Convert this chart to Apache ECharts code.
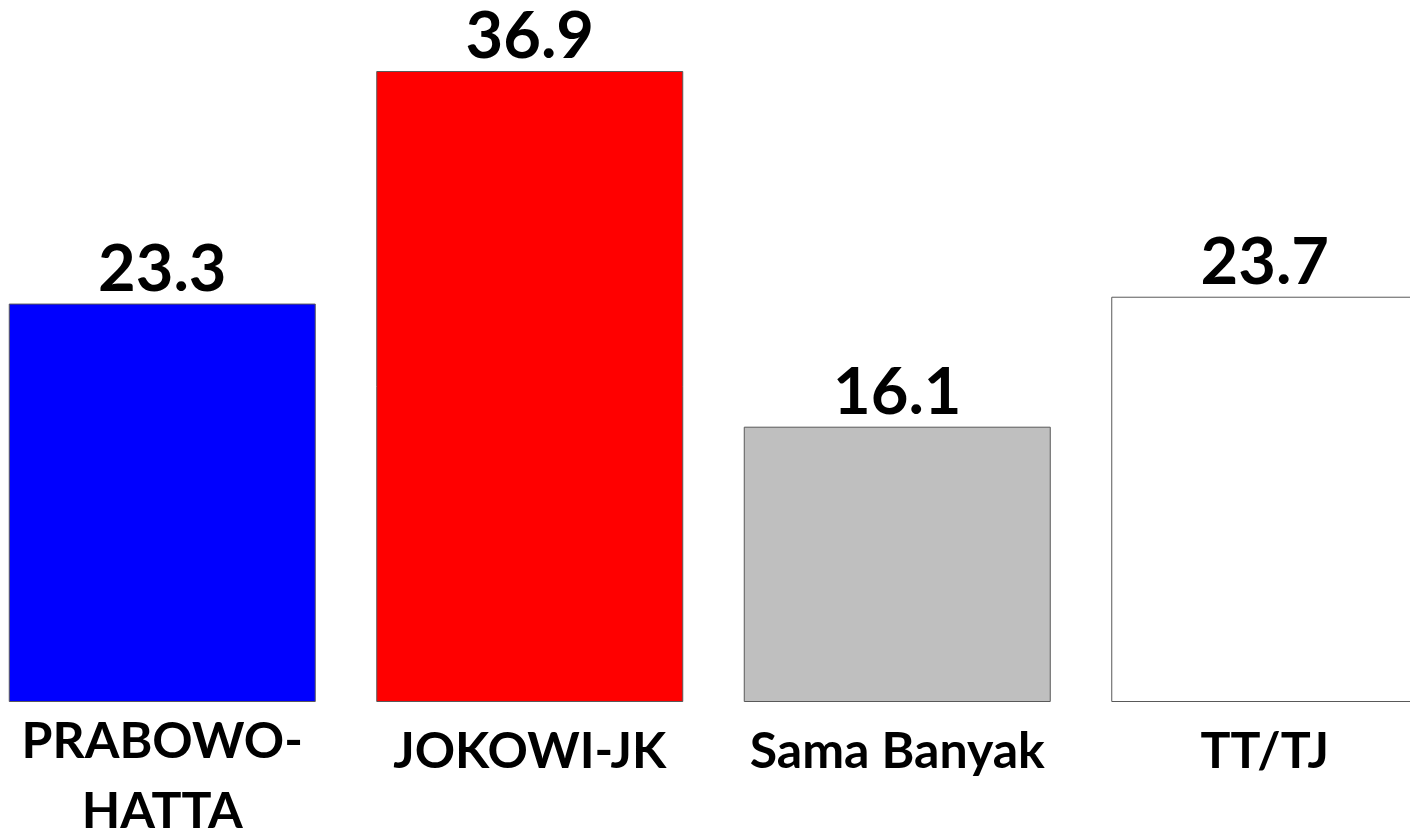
<!DOCTYPE html>
<html>
<head>
<meta charset="utf-8">
<script src="https://cdn.jsdelivr.net/npm/echarts@6/dist/echarts.min.js"></script>
<style>
html,body{margin:0;padding:0;background:#fff;}
#chart{width:1410px;height:835px;}
</style>
</head>
<body>
<div id="chart"></div>
<script>
const categories = ['PRABOWO-\nHATTA', 'JOKOWI-JK', 'Sama Banyak', 'TT/TJ'];
const values = [23.3, 36.9, 16.1, 23.7];
const barColors = ['#0000FF', '#FF0000', '#BFBFBF', '#FFFFFF'];

const chart = echarts.init(document.getElementById('chart'), null, {renderer: 'canvas'});
const catData = categories.map(function (c) {
  const multi = c.indexOf('\n') >= 0;
  return {value: c, textStyle: {padding: multi ? [0, 0, 0, 0] : [10, 0, 0, 0]}};
});
chart.setOption({
  animation: false,
  backgroundColor: '#FFFFFF',
  grid: {left: -21.5, width: 1470, top: 18, bottom: 133, containLabel: false, outerBoundsMode: 'none'},
  xAxis: {
    type: 'category',
    data: catData,
    axisLine: {show: false},
    axisTick: {show: false},
    axisLabel: {
      interval: 0,
      margin: 5,
      color: '#000',
      fontFamily: 'Lato',
      fontWeight: 'bold',
      fontSize: 50,
      lineHeight: 70,
      verticalAlign: 'top'
    }
  },
  yAxis: {
    type: 'value',
    min: 0,
    max: 40,
    show: false,
    splitLine: {show: false}
  },
  series: [{
    type: 'bar',
    barWidth: 307,
    data: values.map(function (v, i) {
      return {value: v, itemStyle: {color: barColors[i]}};
    }),
    itemStyle: {borderColor: '#595959', borderWidth: 1},
    label: {
      show: true,
      position: 'top',
      distance: 1,
      color: '#000',
      fontFamily: 'Lato',
      fontWeight: 'bold',
      fontSize: 65
    }
  }]
});
</script>
</body>
</html>
